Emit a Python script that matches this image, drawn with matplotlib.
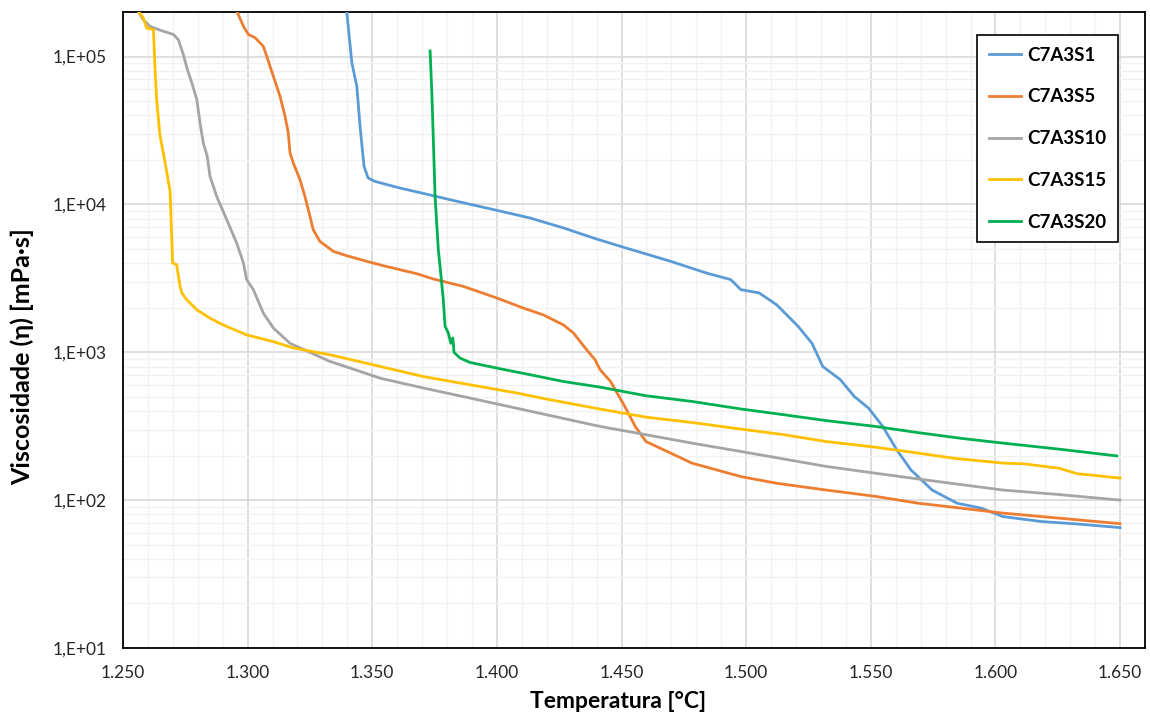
import numpy as np
import matplotlib
matplotlib.use("Agg")
import matplotlib.pyplot as plt
from matplotlib.ticker import FixedLocator, FuncFormatter, NullFormatter

plt.rcParams['font.family'] = ['Lato', 'DejaVu Sans']

# ---- data ----
t_s1 = [1339.5, 1341.8, 1343.8, 1345.1, 1346.7, 1348.3, 1351.1, 1361.1, 1369.2, 1383.9, 1399.9,
        1413.3, 1426.7, 1440.0, 1450.6, 1458.2, 1469.7, 1483.9, 1493.8, 1497.9, 1505.2, 1512.3,
        1520.8, 1526.4, 1530.7, 1537.8, 1543.4, 1549.1, 1554.8, 1560.4, 1566.1, 1574.6, 1584.6,
        1594.5, 1603.0, 1618.6, 1632.7, 1650.0]
v_s1 = [224000, 90600, 63000, 33700, 18100, 15100, 14300, 12900, 12000, 10500, 9120,
        8090, 6930, 5830, 5140, 4710, 4120, 3440, 3100, 2650, 2520, 2090,
        1500, 1150, 802, 652, 502, 419, 315, 219, 160, 117, 95.3,
        88.1, 77.4, 71.6, 69.0, 65.2]

t_s5 = [1295.0, 1298.3, 1300.3, 1303.0, 1306.3, 1307.7, 1310.3, 1313.0, 1315.0, 1316.3, 1317.0,
        1318.3, 1321.0, 1323.0, 1325.0, 1326.3, 1329.0, 1334.4, 1339.7, 1347.8, 1354.4, 1367.8,
        1374.5, 1386.5, 1399.9, 1410.6, 1418.6, 1426.7, 1430.7, 1436.0, 1439.4, 1441.4, 1445.6,
        1451.3, 1455.5, 1459.8, 1469.7, 1478.2, 1498.1, 1512.3, 1532.1, 1551.9, 1569.0, 1583.2,
        1603.0, 1625.7, 1650.0]
v_s5 = [215000, 160000, 141000, 134000, 117000, 100000, 73600, 53800, 39400, 30500, 22300,
        19100, 14700, 11300, 8300, 6750, 5620, 4810, 4500, 4120, 3850, 3400,
        3130, 2790, 2330, 1990, 1790, 1530, 1350, 1040, 889, 762, 634,
        430, 315, 249, 208, 178, 144, 130, 117, 106, 95.3, 89.5,
        81.7, 75.5, 69.3]

t_s10 = [1255.0, 1258.1, 1260.8, 1264.8, 1270.2, 1272.2, 1274.2, 1275.6, 1277.6, 1279.6, 1280.9,
         1282.2, 1283.8, 1284.9, 1287.6, 1291.6, 1295.6, 1298.3, 1299.6, 1302.3, 1306.3, 1310.3,
         1317.0, 1333.0, 1341.1, 1353.1, 1370.5, 1389.2, 1441.4, 1459.8, 1478.2, 1498.1, 1532.1,
         1551.9, 1569.0, 1603.0, 1625.7, 1650.0]
v_s10 = [215000, 178000, 160000, 151000, 141000, 130000, 103000, 83900, 66400, 51200, 35600,
         26100, 21100, 15500, 11300, 7890, 5480, 4020, 3100, 2650, 1840, 1460,
         1150, 867, 782, 668, 573, 490, 315, 277, 243, 213, 169,
         152, 139, 117, 109, 100]

t_s15 = [1255.0, 1258.1, 1259.5, 1262.2, 1262.8, 1263.5, 1264.8, 1266.9, 1268.9, 1269.9, 1271.5,
         1272.9, 1273.6, 1275.6, 1279.6, 1284.9, 1290.2, 1299.6, 1310.3, 1318.3, 1333.0, 1350.4,
         1370.5, 1389.2, 1408.0, 1420.0, 1441.4, 1459.8, 1478.2, 1498.1, 1515.1, 1532.1, 1551.9,
         1569.0, 1583.2, 1603.0, 1611.5, 1625.7, 1632.7, 1650.0]
v_s15 = [215000, 183000, 156000, 152000, 85900, 51200, 29600, 19100, 12200, 4020, 3910,
         2790, 2520, 2260, 1940, 1700, 1530, 1310, 1180, 1070, 962, 822,
         685, 603, 530, 482, 413, 364, 335, 302, 277, 249, 228,
         208, 192, 178, 176, 164, 151, 141]

t_s20 = [1373.2, 1373.9, 1374.5, 1375.2, 1376.5, 1377.2, 1378.5, 1379.2, 1380.5, 1381.5, 1382.3,
         1382.8, 1385.2, 1389.2, 1399.9, 1413.3, 1426.7, 1441.4, 1459.8, 1478.2, 1498.1, 1515.1,
         1532.1, 1551.9, 1569.0, 1586.0, 1603.0, 1625.7, 1648.7]
v_s20 = [109000, 56800, 27400, 11300, 4940, 3810, 2260, 1500, 1350, 1150, 1250,
         998, 914, 853, 782, 705, 634, 581, 508, 465, 413, 378,
         345, 315, 286, 262, 243, 221, 199]

series_names = ["C7A3S1", "C7A3S5", "C7A3S10", "C7A3S15", "C7A3S20"]
series_colors = ["#5B9BD5", "#ED7D31", "#A5A5A5", "#FFC000", "#00B050"]

x_ticks = [1250, 1300, 1350, 1400, 1450, 1500, 1550, 1600, 1650]
y_ticks = [1e1, 1e2, 1e3, 1e4, 1e5]

# ---- figure ----
fig = plt.figure(figsize=(11.5, 7.15), dpi=100)
ax = fig.add_axes([123 / 1150, 1 - 648 / 715, (1145 - 123) / 1150, (648 - 12) / 715])

data = [(t_s1, v_s1), (t_s5, v_s5), (t_s10, v_s10), (t_s15, v_s15), (t_s20, v_s20)]
for (t, v), name, col in zip(data, series_names, series_colors):
    ax.plot(t, v, color=col, lw=2.0, label=name, solid_joinstyle='round', zorder=3)

ax.set_yscale('log')
ax.set_xlim(1250, 1660)
ax.set_ylim(10, 2.0e5)

ax.xaxis.set_major_locator(FixedLocator(x_ticks))
ax.xaxis.set_minor_locator(FixedLocator(list(range(1250, 1661, 10))))
ax.yaxis.set_major_locator(FixedLocator(y_ticks))
minor_y = [m * 10 ** e for e in range(1, 6) for m in range(2, 10)]
ax.yaxis.set_minor_locator(FixedLocator(minor_y))
ax.yaxis.set_minor_formatter(NullFormatter())
ax.xaxis.set_minor_formatter(NullFormatter())

ax.xaxis.set_major_formatter(FuncFormatter(lambda v, p: f"{v/1000:.3f}"))
ax.yaxis.set_major_formatter(FuncFormatter(lambda v, p: f"1,E+{int(round(np.log10(v))):02d}"))

ax.grid(which='major', color='#D9D9D9', lw=1.2, zorder=1)
ax.grid(which='minor', color='#F2F2F2', lw=1.0, zorder=0)
ax.set_axisbelow(True)

ax.tick_params(which='both', length=0)
ax.tick_params(axis='x', labelsize=12.5, pad=12)
ax.tick_params(axis='y', labelsize=12.5, pad=12)
for lab in ax.get_xticklabels() + ax.get_yticklabels():
    lab.set_color('#262626')

for sp in ax.spines.values():
    sp.set_color('black')
    sp.set_linewidth(1.3)

ax.set_xlabel("Temperatura [°C]", fontsize=16.5, fontweight='bold', va='top')
ax.xaxis.set_label_coords(0.484, -0.068)
ax.set_ylabel("Viscosidade (η) [mPa·s]", fontsize=18, fontweight='bold')
ax.yaxis.set_label_coords(-0.087, 0.4575)

leg = ax.legend(loc='upper left', bbox_to_anchor=(977 / 1150, 1 - 35 / 715),
                bbox_transform=fig.transFigure, frameon=True, fancybox=False,
                prop={'weight': 'bold', 'size': 13.5}, handlelength=1.75, handletextpad=0.3,
                labelspacing=1.32, borderpad=0.62, borderaxespad=0)
leg.get_frame().set_edgecolor('black')
leg.get_frame().set_linewidth(1.2)
leg.get_frame().set_alpha(1)

fig.savefig("out.png", dpi=100)
